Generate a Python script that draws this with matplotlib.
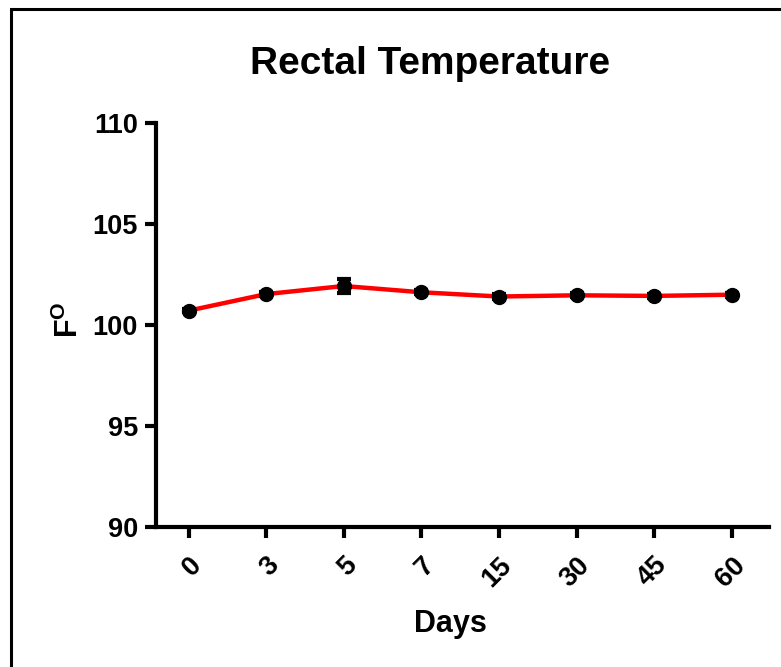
import numpy as np
import matplotlib.pyplot as plt
from matplotlib.patches import Rectangle

plt.rcParams['font.family'] = ['Liberation Sans', 'DejaVu Sans']
plt.rcParams['font.weight'] = 'bold'
plt.rcParams['mathtext.fontset'] = 'custom'
plt.rcParams['mathtext.rm'] = 'Liberation Sans:bold'
plt.rcParams['mathtext.bf'] = 'Liberation Sans:bold'

days = ['0', '3', '5', '7', '15', '30', '45', '60']
temp = [100.71, 101.53, 101.93, 101.62, 101.41, 101.47, 101.44, 101.50]
sem = [0.08, 0.10, 0.33, 0.10, 0.10, 0.10, 0.10, 0.10]

fig = plt.figure(figsize=(7.81, 6.67), dpi=100)
fig.patches.append(Rectangle((11 / 781, -0.01), 1.2, 1 - 9 / 667 + 0.01,
                             transform=fig.transFigure, fill=False,
                             edgecolor='black', linewidth=2.2))

ax = fig.add_axes([156 / 781, 1 - 527 / 667, (769 - 156) / 781, (527 - 123) / 667])
x = np.arange(len(days))
ax.plot(x, temp, color='red', lw=3.2, zorder=2)
ax.errorbar(x, temp, yerr=sem, fmt='o', color='black', ms=10,
            ecolor='black', elinewidth=3, capsize=5, capthick=3, zorder=3)

ax.set_xlim(-0.42, 7.48)
ax.set_ylim(90, 110)
ax.set_yticks([90, 95, 100, 105, 110])
ax.set_xticks(x)
ax.set_xticklabels(days, rotation=45, ha='right', va='top', rotation_mode='anchor')

for s in ['top', 'right']:
    ax.spines[s].set_visible(False)
for s in ['left', 'bottom']:
    ax.spines[s].set_linewidth(3)
ax.tick_params(width=3, length=8, labelsize=19.5, pad=5)
ax.tick_params(axis='x', pad=10)

fig.text(430 / 781, 1 - 74 / 667, 'Rectal Temperature', fontsize=28,
         fontweight='bold', ha='center', va='baseline')
ax.text(0.481, -0.26, 'Days', transform=ax.transAxes, fontsize=22,
        fontweight='bold', ha='center', va='baseline')
ax.text(-0.127, 0.512, r'F$^{\mathrm{O}}$', transform=ax.transAxes, fontsize=22,
        fontweight='bold', ha='center', va='baseline', rotation=90,
        rotation_mode='anchor')

fig.savefig('out.png', dpi=100)
